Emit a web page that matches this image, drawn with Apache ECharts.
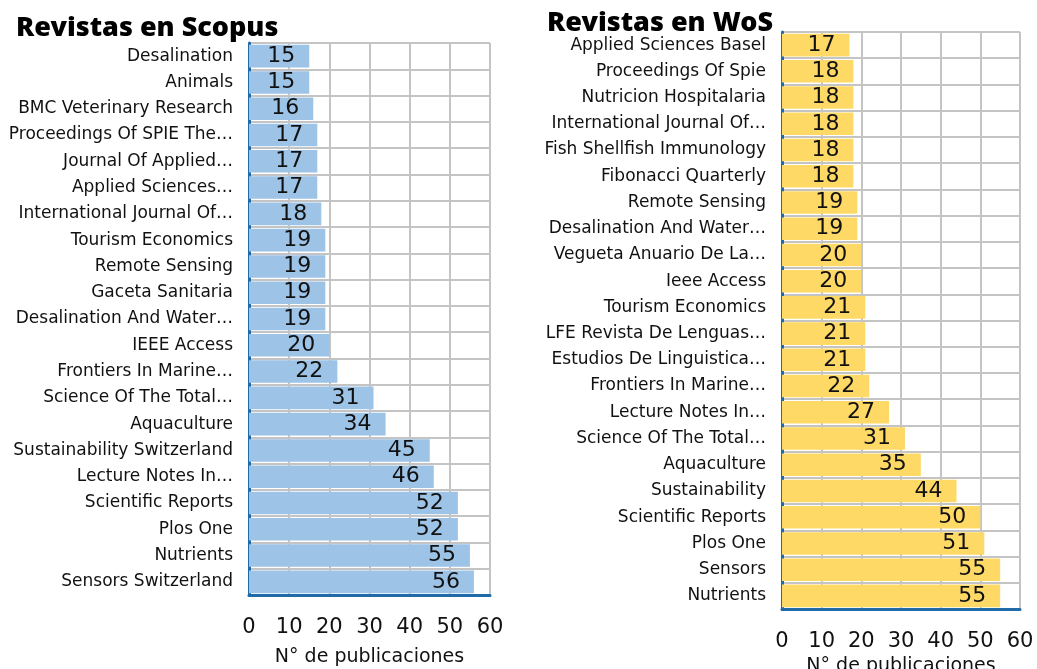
<!DOCTYPE html>
<html>
<head>
<meta charset="utf-8">
<script src="https://cdn.jsdelivr.net/npm/echarts@6/dist/echarts.min.js"></script>
<style>
  html, body { margin: 0; padding: 0; background: #fff; }
  #chart { width: 1037px; height: 669px; }
</style>
</head>
<body>
<div id="chart"></div>
<script>
// Scopus (top to bottom)
const scopusNames = [
  'Desalination', 'Animals', 'BMC Veterinary Research', 'Proceedings Of SPIE The…',
  'Journal Of Applied…', 'Applied Sciences…', 'International Journal Of…',
  'Tourism Economics', 'Remote Sensing', 'Gaceta Sanitaria', 'Desalination And Water…',
  'IEEE Access', 'Frontiers In Marine…', 'Science Of The Total…', 'Aquaculture',
  'Sustainability Switzerland', 'Lecture Notes In…', 'Scientific Reports', 'Plos One',
  'Nutrients', 'Sensors Switzerland'
];
const scopusValues = [15, 15, 16, 17, 17, 17, 18, 19, 19, 19, 19, 20, 22, 31, 34, 45, 46, 52, 52, 55, 56];

// WoS (top to bottom)
const wosNames = [
  'Applied Sciences Basel', 'Proceedings Of Spie', 'Nutricion Hospitalaria',
  'International Journal Of…', 'Fish Shellfish Immunology', 'Fibonacci Quarterly',
  'Remote Sensing', 'Desalination And Water…', 'Vegueta Anuario De La…', 'Ieee Access',
  'Tourism Economics', 'LFE Revista De Lenguas…', 'Estudios De Linguistica…',
  'Frontiers In Marine…', 'Lecture Notes In…', 'Science Of The Total…', 'Aquaculture',
  'Sustainability', 'Scientific Reports', 'Plos One', 'Sensors', 'Nutrients'
];
const wosValues = [17, 18, 18, 18, 18, 18, 19, 19, 20, 20, 21, 21, 21, 22, 27, 31, 35, 44, 50, 51, 55, 55];

const axisTicks = [0, 10, 20, 30, 40, 50, 60];
const axisName = 'N° de publicaciones';

const FONT = 'DejaVu Sans';
const TITLE_FONT = 'Noto Sans';
const chart = echarts.init(document.getElementById('chart'));

function valueAxis(gridIndex, labelMargin, nameGap) {
  return {
    type: 'value', gridIndex: gridIndex,
    min: axisTicks[0], max: axisTicks[axisTicks.length - 1], interval: 10,
    name: axisName, nameLocation: 'middle', nameGap: nameGap,
    nameTextStyle: { fontFamily: FONT, fontSize: 19, color: '#111' },
    axisLine: { show: true, lineStyle: { color: '#1f6aa8', width: 3 } },
    axisTick: { show: false },
    axisLabel: { fontFamily: FONT, fontSize: 21, color: '#111', margin: labelMargin },
    splitLine: { show: true, lineStyle: { color: '#c4c4c4', width: 2 } }
  };
}

function categoryAxis(gridIndex, names) {
  return {
    type: 'category', gridIndex: gridIndex, data: names, inverse: true,
    axisLine: { show: true, lineStyle: { color: '#1f6aa8', width: 3 } },
    axisTick: { show: false },
    axisLabel: { fontFamily: FONT, fontSize: 17, color: '#111', margin: 16 },
    splitLine: { show: true, lineStyle: { color: '#c4c4c4', width: 2 } }
  };
}

function barSeries(idx, values, color) {
  return {
    type: 'bar', xAxisIndex: idx, yAxisIndex: idx, data: values,
    barCategoryGap: '14%',
    itemStyle: { color: color },
    label: {
      show: true, position: 'insideRight', distance: 14,
      fontFamily: FONT, fontSize: 22, color: '#111'
    }
  };
}

chart.setOption({
  animation: false,
  title: [
    { text: 'Revistas en Scopus', left: 11, top: 10,
      textStyle: { fontFamily: TITLE_FONT, fontSize: 27, fontWeight: 900, color: '#000' } },
    { text: 'Revistas en WoS', left: 542, top: 5,
      textStyle: { fontFamily: TITLE_FONT, fontSize: 27, fontWeight: 900, color: '#000' } }
  ],
  grid: [
    { left: 249, top: 43, width: 241, height: 552, outerBoundsMode: 'none', containLabel: false },
    { left: 782, top: 32, width: 238, height: 577, outerBoundsMode: 'none', containLabel: false }
  ],
  xAxis: [valueAxis(0, 22, 53), valueAxis(1, 22, 41)],
  yAxis: [categoryAxis(0, scopusNames), categoryAxis(1, wosNames)],
  series: [
    barSeries(0, scopusValues, '#9dc3e6'),
    barSeries(1, wosValues, '#ffd966')
  ]
});
</script>
</body>
</html>
